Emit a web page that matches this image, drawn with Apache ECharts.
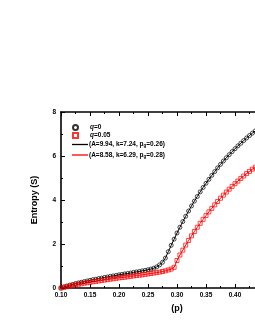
<!DOCTYPE html>
<html><head><meta charset="utf-8">
<script src="https://cdn.jsdelivr.net/npm/echarts@6/dist/echarts.min.js"></script>
<style>html,body{margin:0;padding:0;background:#fff;overflow:hidden}#c{width:255px;height:330px}</style>
</head><body><div id="c"></div>
<script>
const pValues = [0.100,0.105,0.110,0.115,0.120,0.125,0.130,0.135,0.140,0.145,0.150,0.155,0.160,0.165,0.170,0.175,0.180,0.185,0.190,0.195,0.200,0.205,0.210,0.215,0.220,0.225,0.230,0.235,0.240,0.245,0.250,0.255,0.260,0.265,0.270,0.275,0.280,0.285,0.290,0.295,0.300,0.305,0.310,0.315,0.320,0.325,0.330,0.335,0.340,0.345,0.350,0.355,0.360,0.365,0.370,0.375,0.380,0.385,0.390,0.395,0.400,0.405,0.410,0.415,0.420,0.425,0.430,0.435,0.440];
const entropyQ0 = [0.00,0.05,0.09,0.13,0.16,0.20,0.23,0.26,0.29,0.32,0.35,0.38,0.40,0.43,0.45,0.48,0.50,0.53,0.55,0.57,0.60,0.62,0.64,0.66,0.68,0.71,0.73,0.75,0.78,0.80,0.83,0.86,0.90,0.96,1.05,1.17,1.36,1.65,1.94,2.22,2.50,2.76,3.02,3.26,3.50,3.73,3.95,4.16,4.37,4.57,4.76,4.94,5.12,5.29,5.46,5.62,5.77,5.92,6.06,6.20,6.33,6.46,6.58,6.70,6.82,6.93,7.04,7.14,7.24];
const entropyQ005 = [0.00,0.03,0.06,0.09,0.12,0.14,0.17,0.19,0.22,0.24,0.26,0.28,0.30,0.32,0.34,0.36,0.38,0.40,0.42,0.44,0.46,0.48,0.49,0.51,0.53,0.55,0.57,0.58,0.60,0.62,0.64,0.66,0.68,0.70,0.72,0.75,0.78,0.82,0.86,0.94,1.25,1.50,1.72,1.95,2.16,2.37,2.57,2.76,2.94,3.12,3.29,3.46,3.62,3.78,3.93,4.08,4.22,4.36,4.49,4.62,4.74,4.86,4.98,5.09,5.20,5.30,5.40,5.49,5.58];
const yTicks = [0, 2, 4, 6, 8];
const legendLabels = {
  q0: '{i|q}{t|=0}',
  q005: '{i|q}{t|=0.05}',
  fit0: '{t|(A=9.94, k=7.24, p}{s|g}{t|=0.26)}',
  fit005: '{t|(A=8.58, k=6.29, p}{s|g}{t|=0.28)}'
};

const F = '"Liberation Sans", Arial, sans-serif';
const d0 = pValues.map((p, i) => [p, entropyQ0[i]]);
const d1 = pValues.map((p, i) => [p, entropyQ005[i]]);
const rich = {
  t: {fontFamily: F, fontSize: 6.5, fontWeight: 'bold', color: '#000'},
  i: {fontFamily: F, fontSize: 6.5, fontWeight: 'bold', fontStyle: 'italic', color: '#000'},
  s: {fontFamily: F, fontSize: 4.5, fontWeight: 'bold', color: '#000', verticalAlign: 'bottom', padding: [3,0,0,0]}
};

const chart = echarts.init(document.getElementById('c'), null, {renderer: 'canvas'});
const axisCommon = {
  min: 0.1, max: 0.5, interval: 0.05,
  axisLine: {show: true, onZero: false, lineStyle: {color: '#000', width: 1.6}},
  axisTick: {show: true, inside: true, length: 4, lineStyle: {color: '#000', width: 1}},
  minorTick: {show: true, splitNumber: 2, length: 2, lineStyle: {color: '#000', width: 1}},
  splitLine: {show: false}
};
chart.setOption({
  animation: false,
  grid: {left: 61, top: 112, height: 176, width: 232, containLabel: false, outerBoundsMode: 'none'},
  legend: [
    {
      orient: 'vertical', left: 72, top: 124, padding: 0, itemWidth: 5, itemHeight: 5, itemGap: 1,
      data: [{name: 'q0', icon: 'circle'}, {name: 'q005', icon: 'rect'}],
      formatter: n => legendLabels[n],
      textStyle: {padding: [0, 0, 0, 7], rich: rich}
    },
    {
      orient: 'vertical', left: 72, top: 141, padding: 0, itemWidth: 16, itemHeight: 1.3, itemGap: 3,
      data: [{name: 'fit0', icon: 'rect'}, {name: 'fit005', icon: 'rect'}],
      formatter: n => legendLabels[n],
      textStyle: {padding: [0, 0, 0, -4], rich: rich}
    }
  ],
  xAxis: [
    Object.assign({}, axisCommon, {
      type: 'value', position: 'bottom',
      name: '(p)', nameLocation: 'middle', nameGap: 16,
      nameTextStyle: {fontFamily: F, fontSize: 9, fontWeight: 'bold', color: '#000'},
      axisLabel: {show: true, margin: 4, fontFamily: F, fontSize: 6.5, fontWeight: 'bold', color: '#000',
        formatter: v => v.toFixed(2)}
    }),
    Object.assign({}, axisCommon, {
      type: 'value', position: 'top', axisLabel: {show: false}
    })
  ],
  yAxis: {
    type: 'value', min: yTicks[0], max: yTicks[yTicks.length - 1], interval: 2,
    name: 'Entropy (S)', nameLocation: 'middle', nameGap: 22, nameRotate: 90,
    nameTextStyle: {fontFamily: F, fontSize: 9, fontWeight: 'bold', color: '#000'},
    axisLine: {show: true, lineStyle: {color: '#000', width: 1.6}},
    axisTick: {show: true, inside: true, length: 4, lineStyle: {color: '#000', width: 1}},
    minorTick: {show: true, splitNumber: 2, length: 2, lineStyle: {color: '#000', width: 1}},
    splitLine: {show: false},
    axisLabel: {margin: 5, fontFamily: F, fontSize: 6.5, fontWeight: 'bold', color: '#000'}
  },
  series: [
    {name: 'fit0', type: 'line', data: d0, symbol: 'none', lineStyle: {color: '#000', width: 1}, itemStyle: {color: '#000'}, z: 2},
    {name: 'fit005', type: 'line', data: d1, symbol: 'none', lineStyle: {color: '#ff0000', width: 1}, itemStyle: {color: '#ff0000'}, z: 2},
    {name: 'q0', type: 'scatter', data: d0, symbol: 'circle', symbolSize: 4,
      itemStyle: {color: 'rgba(255,255,255,0)', borderColor: '#000', borderWidth: 0.9}, z: 3},
    {name: 'q005', type: 'scatter', data: d1, symbol: 'rect', symbolSize: 4,
      itemStyle: {color: 'rgba(255,255,255,0)', borderColor: '#ff0000', borderWidth: 0.9}, z: 3}
  ]
});
</script></body></html>
